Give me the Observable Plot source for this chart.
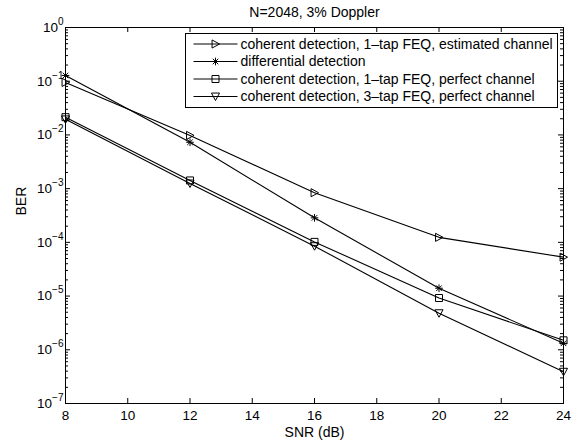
<!DOCTYPE html>
<html><head><meta charset="utf-8">
<script src="https://cdn.jsdelivr.net/npm/d3@7"></script>
<script src="https://cdn.jsdelivr.net/npm/@observablehq/plot@0.6"></script>
<style>
body{margin:0;background:#fff}
#chart svg{font-family:"Liberation Sans",Arial,Helvetica,sans-serif}
</style>
</head><body><div id="chart"></div>
<script>
// ---- data ----
const snr = [8, 12, 16, 20, 24];
const berEstimated   = [0.095, 0.0098, 8.4e-4, 1.24e-4, 5.3e-5];
const berDifferential = [0.128, 0.0073, 2.86e-4, 1.4e-5, 1.32e-6];
const berPerfect1    = [0.0214, 1.42e-3, 1.02e-4, 9.2e-6, 1.5e-6];
const berPerfect3    = [0.0195, 1.25e-3, 8.5e-5, 4.8e-6, 3.9e-7];
const seriesNames = [
  "coherent detection, 1\u2013tap FEQ, estimated channel",
  "differential detection",
  "coherent detection, 1\u2013tap FEQ, perfect channel",
  "coherent detection, 3\u2013tap FEQ, perfect channel"
];
const xTicks = [8, 10, 12, 14, 16, 18, 20, 22, 24];
const yMajor = [1, 1e-1, 1e-2, 1e-3, 1e-4, 1e-5, 1e-6, 1e-7];
const yExponents = ["0", "\u22121", "\u22122", "\u22123", "\u22124", "\u22125", "\u22126", "\u22127"];
const titleText = "N=2048, 3% Doppler";
const xLabel = "SNR (dB)";
const yLabel = "BER";

// ---- marker shapes (MATLAB-like) ----
const triRight = {draw(c, s){ const a = Math.sqrt(s/Math.PI)*0.9; c.moveTo(a,0); c.lineTo(-a*0.85,-a); c.lineTo(-a*0.85,a); c.closePath(); }};
const triDown  = {draw(c, s){ const a = Math.sqrt(s/Math.PI)*0.9; c.moveTo(0,a); c.lineTo(-a,-a*0.85); c.lineTo(a,-a*0.85); c.closePath(); }};
const square   = {draw(c, s){ const a = Math.sqrt(s/Math.PI)*0.78; c.rect(-a,-a,2*a,2*a); }};
const star     = {draw(c, s){ const a = Math.sqrt(s/Math.PI)*0.85, b = a*0.72;
  c.moveTo(-a,0); c.lineTo(a,0); c.moveTo(0,-a); c.lineTo(0,a);
  c.moveTo(-b,-b); c.lineTo(b,b); c.moveTo(-b,b); c.lineTo(b,-b); }};

const seriesValues = [berEstimated, berDifferential, berPerfect1, berPerfect3];
const seriesSymbols = [triRight, star, square, triDown];
const rows = seriesValues.flatMap((vals, k) => snr.map((x, i) => ({snr: x, ber: vals[i], series: seriesNames[k]})));

const yMinor = [];
for (let e = -7; e < 0; e++) for (let m = 2; m <= 9; m++) yMinor.push(m * Math.pow(10, e));

const W = 584, H = 444, mL = 65, mR = 21, mT = 27, mB = 41;
const fw = W - mL - mR, fh = H - mT - mB;

const marks = [
  Plot.line(rows, {x: "snr", y: "ber", z: "series", stroke: "black", strokeWidth: 1.1}),
  ...seriesSymbols.map((sym, k) => Plot.dot(rows.filter(d => d.series === seriesNames[k]),
      {x: "snr", y: "ber", symbol: sym, r: 4.5, stroke: "black", fill: "none", strokeWidth: 1})),
  Plot.tickX(xTicks, {x: d => d, insetTop: fh - 5, stroke: "black"}),
  Plot.tickX(xTicks, {x: d => d, insetBottom: fh - 5, stroke: "black"}),
  Plot.tickY(yMajor, {y: d => d, insetRight: fw - 5, stroke: "black"}),
  Plot.tickY(yMajor, {y: d => d, insetLeft: fw - 5, stroke: "black"}),
  Plot.tickY(yMinor, {y: d => d, insetRight: fw - 3, stroke: "black"}),
  Plot.tickY(yMinor, {y: d => d, insetLeft: fw - 3, stroke: "black"}),
  Plot.frame({stroke: "black", strokeWidth: 1}),
  Plot.text(xTicks, {x: d => d, frameAnchor: "bottom", lineAnchor: "middle", dy: 12.5, text: d => String(d), fontSize: 13.5}),
  Plot.text(yMajor, {y: d => d, frameAnchor: "left", dx: -2, textAnchor: "end",
      text: (d, i) => yExponents[i], fontSize: 13.5}),
  Plot.text([titleText], {frameAnchor: "top", lineAnchor: "middle", dy: -15, text: d => d, fontSize: 14}),
  Plot.text([xLabel], {frameAnchor: "bottom", lineAnchor: "middle", dy: 29.5, text: d => d, fontSize: 14}),
  Plot.text([yLabel], {frameAnchor: "left", dx: -44, rotate: -90, text: d => d, fontSize: 14})
];

const svg = Plot.plot({
  width: W, height: H,
  marginLeft: mL, marginRight: mR, marginTop: mT, marginBottom: mB,
  x: {domain: [8, 24], axis: null},
  y: {type: "log", domain: [1e-7, 1], axis: null},
  style: {background: "white", color: "black", fontSize: "13px"},
  marks
});

// superscript exponents for y labels
const NS = "http://www.w3.org/2000/svg";
svg.querySelectorAll("text").forEach(t => {
  const e = t.textContent;
  if (!yExponents.includes(e)) return;
  while (t.firstChild) t.removeChild(t.firstChild);
  const a = document.createElementNS(NS, "tspan"); a.textContent = "10"; t.appendChild(a);
  const b = document.createElementNS(NS, "tspan"); b.setAttribute("dy", "-7"); b.setAttribute("font-size", "10"); b.textContent = e; t.appendChild(b);
});

// legend (MATLAB style box)
const lg = d3.select(svg).append("g").attr("font-size", 14).attr("text-anchor", "start");
const lx = 185.5, ly = 33.5, lw = 372, lh = 74, rowH = 17.5;
lg.append("rect").attr("x", lx).attr("y", ly).attr("width", lw).attr("height", lh)
  .attr("fill", "white").attr("stroke", "black");
seriesNames.forEach((name, k) => {
  const cy = ly + 10.5 + k * rowH;
  lg.append("line").attr("x1", lx + 8).attr("x2", lx + 52).attr("y1", cy).attr("y2", cy).attr("stroke", "black");
  const p = d3.path(); seriesSymbols[k].draw(p, 4.5 * 4.5 * Math.PI);
  lg.append("path").attr("d", p.toString()).attr("transform", `translate(${lx + 30},${cy})`)
    .attr("fill", "none").attr("stroke", "black");
  lg.append("text").attr("x", lx + 55).attr("y", cy).attr("dy", "0.35em").text(name);
});

document.getElementById("chart").appendChild(svg);
</script>
</body></html>
